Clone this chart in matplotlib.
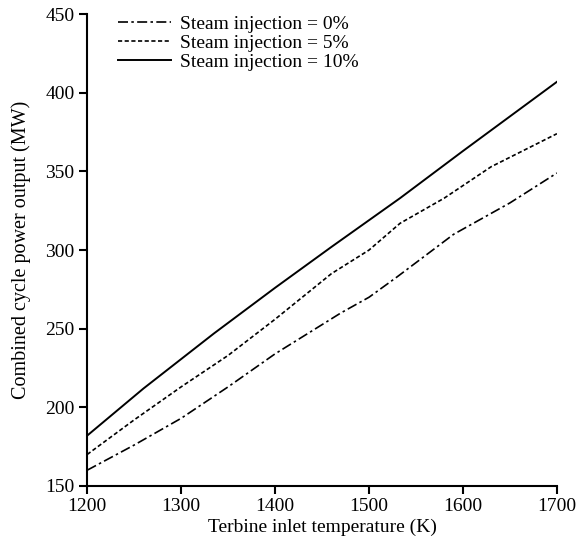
import matplotlib
matplotlib.use('Agg')
import matplotlib.pyplot as plt

# Data
temp_0 = [1200, 1250, 1300, 1350, 1400, 1470, 1500, 1530, 1590, 1650, 1700]
power_0 = [160, 176, 193, 213, 234, 260, 270, 283, 310, 330, 349]

temp_5 = [1200, 1250, 1300, 1350, 1400, 1460, 1500, 1533, 1580, 1630, 1700]
power_5 = [170, 192, 213, 233, 256, 285, 300, 317, 333, 353, 374]

temp_10 = [1200, 1260, 1335, 1400, 1460, 1533, 1600, 1700]
power_10 = [182, 212, 247, 276, 302, 333, 363, 407]

labels = ['Steam injection = 0%', 'Steam injection = 5%', 'Steam injection = 10%']

plt.rcParams['font.family'] = ['Liberation Serif', 'DejaVu Serif']
plt.rcParams['font.size'] = 14

fig = plt.figure(figsize=(5.85, 5.46), dpi=100)
ax = fig.add_axes([0.149, 0.110, 0.803, 0.864])

ax.plot(temp_0, power_0, color='black', lw=1.2, dashes=(6, 2, 1.5, 2), label=labels[0])
ax.plot(temp_5, power_5, color='black', lw=1.2, dashes=(2.5, 1.5), label=labels[1])
ax.plot(temp_10, power_10, color='black', lw=1.4, label=labels[2])

ax.set_xlim(1200, 1700)
ax.set_ylim(150, 450)
ax.set_xticks(range(1200, 1701, 100))
ax.set_yticks(range(150, 451, 50))
ax.set_xlabel('Terbine inlet temperature (K)', fontsize=14, labelpad=2)
ax.set_ylabel('Combined cycle power output (MW)', fontsize=14.5)
ax.yaxis.set_label_coords(-0.12, 0.5)

for side in ['top', 'right']:
    ax.spines[side].set_visible(False)
for side in ['left', 'bottom']:
    ax.spines[side].set_linewidth(1.5)
ax.tick_params(direction='out', length=6, width=1.5, labelsize=14, pad=3)

ax.legend(loc='upper left', bbox_to_anchor=(0.029, 1.035), frameon=False,
          handlelength=2.7, labelspacing=0.08, fontsize=14, handletextpad=0.45)

fig.savefig('out.png', dpi=100)
